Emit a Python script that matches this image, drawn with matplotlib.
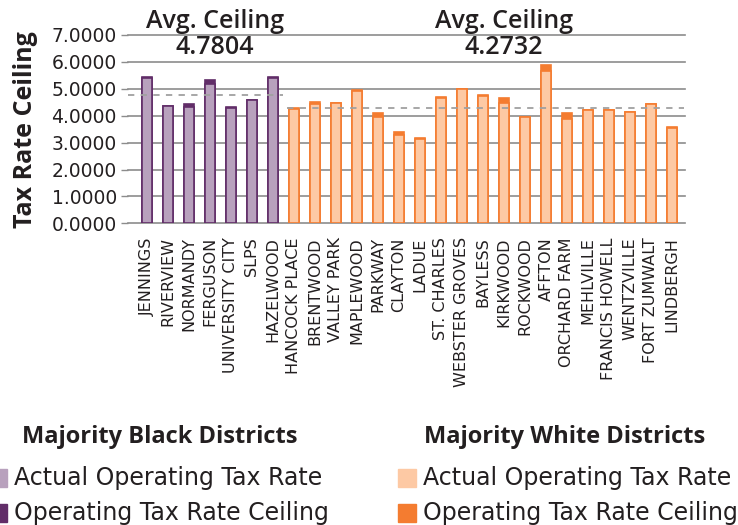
import numpy as np
import matplotlib.pyplot as plt
from matplotlib.patches import Rectangle

# data
black_names = ['JENNINGS', 'RIVERVIEW', 'NORMANDY', 'FERGUSON', 'UNIVERSITY CITY', 'SLPS', 'HAZELWOOD']
black_actual = [5.41, 4.35, 4.34, 5.17, 4.30, 4.57, 5.41]
black_ceiling = [5.44, 4.37, 4.45, 5.33, 4.32, 4.59, 5.43]
black_avg = 4.7804

white_names = ['HANCOCK PLACE', 'BRENTWOOD', 'VALLEY PARK', 'MAPLEWOOD', 'PARKWAY', 'CLAYTON',
               'LADUE', 'ST. CHARLES', 'WEBSTER GROVES', 'BAYLESS', 'KIRKWOOD', 'ROCKWOOD',
               'AFFTON', 'ORCHARD FARM', 'MEHLVILLE', 'FRANCIS HOWELL', 'WENTZVILLE',
               'FORT ZUMWALT', 'LINDBERGH']
white_actual = [4.25, 4.42, 4.46, 4.91, 3.95, 3.27, 3.14, 4.65, 4.99, 4.75, 4.48, 3.94,
                5.68, 3.87, 4.21, 4.21, 4.12, 4.42, 3.56]
white_ceiling = [4.27, 4.52, 4.49, 4.94, 4.10, 3.39, 3.16, 4.68, 5.01, 4.77, 4.67, 3.96,
                 5.89, 4.11, 4.23, 4.23, 4.14, 4.44, 3.58]
white_avg = 4.2732

yticks = [0, 1, 2, 3, 4, 5, 6, 7]

PURPLE_LIGHT = '#b8a1bd'
PURPLE_DARK = '#612d68'
ORANGE_LIGHT = '#fdc9a4'
ORANGE_DARK = '#f47c30'
TEXT = '#231f20'
GRID = '#8c8c8c'

plt.rcParams['font.family'] = ['DejaVu Sans']
HEAD = ['Open Sans', 'DejaVu Sans']

fig = plt.figure(figsize=(7.38, 5.25), dpi=100)
ax = fig.add_axes([128 / 738, 1 - 223.3 / 525, (685 - 128) / 738, (223.3 - 35) / 525])

nb = len(black_names)
xb = np.arange(nb)
xw = np.arange(nb, nb + len(white_names))
w = 0.48

ax.bar(xb, black_ceiling, width=w, color=PURPLE_DARK, edgecolor=PURPLE_DARK, linewidth=1.2, zorder=3)
ax.bar(xb, black_actual, width=w, color=PURPLE_LIGHT, edgecolor=PURPLE_DARK, linewidth=1.2, zorder=3)
ax.bar(xw, white_ceiling, width=w, color=ORANGE_DARK, edgecolor=ORANGE_DARK, linewidth=1.2, zorder=3)
ax.bar(xw, white_actual, width=w, color=ORANGE_LIGHT, edgecolor=ORANGE_DARK, linewidth=1.2, zorder=3)

# average lines
ax.plot([-0.9, nb - 0.5], [black_avg, black_avg], ls=(0, (3.5, 3.5)), color='#a0a0a0', lw=1.3, zorder=4)
ax.plot([nb - 0.35, xw[-1] + 0.55], [white_avg, white_avg], ls=(0, (3.5, 3.5)), color='#a0a0a0', lw=1.3, zorder=4)

ax.set_xlim(-0.9, xw[-1] + 0.62)
ax.set_ylim(0, 7)
ax.set_yticks(yticks)
ax.set_yticklabels(['%.4f' % v for v in yticks], fontsize=13.5, color=TEXT)
ax.set_xticks(np.concatenate([xb, xw]))
ax.set_xticklabels(black_names + white_names, rotation=90, fontsize=11.5, color=TEXT, va='top')
ax.tick_params(axis='x', length=0, pad=10)
ax.tick_params(axis='y', length=5, width=1, color=GRID, pad=3)
for s in ax.spines.values():
    s.set_visible(False)
ax.grid(axis='y', color=GRID, lw=1.2, zorder=0)
for gl in ax.get_ygridlines():
    gl.set_clip_on(False)
ax.set_axisbelow(True)

ax.set_ylabel('Tax Rate Ceiling', fontsize=18, fontweight='bold', color=TEXT, family=HEAD)
ax.yaxis.set_label_coords(-0.161, 0.5)

# avg labels
for xc, val in [(3.25, black_avg), (17.0, white_avg)]:
    ax.text(xc, 7.52, 'Avg. Ceiling', ha='center', va='center', fontsize=18, fontweight='semibold',
            color=TEXT, family=HEAD, clip_on=False)
    ax.text(xc, 6.52, '%.4f' % val, ha='center', va='center', fontsize=18, fontweight='semibold',
            color=TEXT, family=HEAD, clip_on=False)

# legend blocks
def legend_block(x_text, x_head, x_sw, title, light, dark):
    fig.text(x_head / 738, 1 - 437 / 525, title, fontsize=17, fontweight='bold', color=TEXT,
             family=HEAD, va='center')
    for yc, col, lab in [(478, light, 'Actual Operating Tax Rate'), (513, dark, 'Operating Tax Rate Ceiling')]:
        fig.patches.append(Rectangle((x_sw / 738, 1 - (yc + 9) / 525), 18 / 738, 18 / 525,
                                     transform=fig.transFigure, color=col, figure=fig))
        fig.text(x_text / 738, 1 - yc / 525, lab, fontsize=17, color=TEXT, va='center')

legend_block(14, 22, -11, 'Majority Black Districts', PURPLE_LIGHT, PURPLE_DARK)
legend_block(423, 424, 398, 'Majority White Districts', ORANGE_LIGHT, ORANGE_DARK)

fig.savefig('out.png', dpi=100)
